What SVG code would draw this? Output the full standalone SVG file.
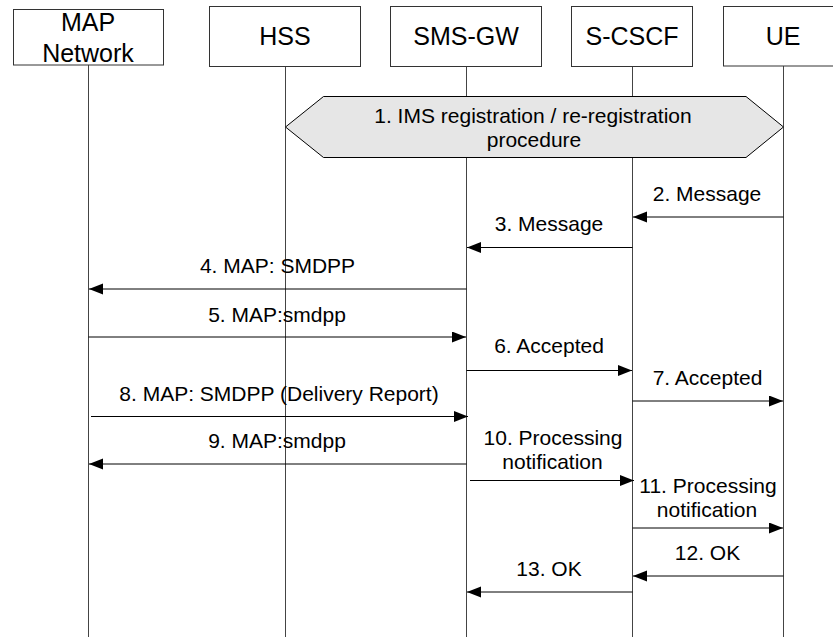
<svg xmlns="http://www.w3.org/2000/svg" width="833" height="637" viewBox="0 0 833 637">
<style>
.box{fill:#fff;stroke:#333;stroke-width:1}
.life{stroke:#444;stroke-width:1;fill:none}
.msg{stroke:#000;stroke-width:1;fill:none;marker-end:url(#ah)}
.nl{font-family:"Liberation Sans",Arial,sans-serif;font-size:25px;fill:#000;text-anchor:middle}
.ml{font-family:"Liberation Sans",Arial,sans-serif;font-size:21px;fill:#000;text-anchor:middle}
</style>
<defs>
<marker id="ah" markerUnits="userSpaceOnUse" markerWidth="15" markerHeight="12" refX="14" refY="5.5" orient="auto">
<path d="M0,0 L14,5.5 L0,11 z" fill="#000"/>
</marker>
</defs>
<g id="lifelines">
<line class="life" x1="88.5" y1="65" x2="88.5" y2="637"/>
<line class="life" x1="285.5" y1="67" x2="285.5" y2="637"/>
<line class="life" x1="466.5" y1="67" x2="466.5" y2="637"/>
<line class="life" x1="632.5" y1="67" x2="632.5" y2="637"/>
<line class="life" x1="783.5" y1="66" x2="783.5" y2="637"/>
</g>
<g id="node-map">
<rect class="box" x="13.5" y="9.5" width="150" height="55.5"/>
<text class="nl" x="88" y="30.5">MAP</text>
<text class="nl" x="88" y="61.5">Network</text>
</g>
<g id="node-hss">
<rect class="box" x="209.5" y="6.5" width="151" height="60"/>
<text class="nl" x="285" y="45">HSS</text>
</g>
<g id="node-smsgw">
<rect class="box" x="390.5" y="6.5" width="151" height="60"/>
<text class="nl" x="466" y="45">SMS-GW</text>
</g>
<g id="node-scscf">
<rect class="box" x="571.5" y="6.5" width="121" height="60"/>
<text class="nl" x="632" y="45">S-CSCF</text>
</g>
<g id="node-ue">
<rect class="box" x="723.5" y="6.5" width="120" height="59.5"/>
<text class="nl" x="783" y="45">UE</text>
</g>
<g id="node-ims">
<polygon points="285.5,127 323.5,96.5 746,96.5 783.5,127 746,157.5 323.5,157.5" fill="#e6e6e6" stroke="#000" stroke-width="1"/>
<text class="ml" x="533" y="122.5">1. IMS registration / re-registration</text>
<text class="ml" x="534" y="146.5">procedure</text>
</g>
<g id="connectors">
<line class="msg" x1="783.5" y1="217" x2="633" y2="217"/>
<line class="msg" x1="632.5" y1="247.5" x2="467" y2="247.5"/>
<line class="msg" x1="466.5" y1="289" x2="89" y2="289"/>
<line class="msg" x1="88.5" y1="337" x2="466" y2="337"/>
<line class="msg" x1="466.5" y1="370.5" x2="632" y2="370.5"/>
<line class="msg" x1="632.5" y1="401" x2="783" y2="401"/>
<line class="msg" x1="91" y1="416.5" x2="468" y2="416.5"/>
<line class="msg" x1="466.5" y1="464" x2="89" y2="464"/>
<line class="msg" x1="470" y1="480.5" x2="634" y2="480.5"/>
<line class="msg" x1="632.5" y1="528" x2="783" y2="528"/>
<line class="msg" x1="783.5" y1="576" x2="633" y2="576"/>
<line class="msg" x1="632.5" y1="592" x2="467" y2="592"/>
</g>
<g id="labels">
<text class="ml" x="707" y="201">2. Message</text>
<text class="ml" x="549" y="231">3. Message</text>
<text class="ml" x="277.5" y="273">4. MAP: SMDPP</text>
<text class="ml" x="277" y="322">5. MAP:smdpp</text>
<text class="ml" x="549" y="353">6. Accepted</text>
<text class="ml" x="707.5" y="385">7. Accepted</text>
<text class="ml" x="279" y="400.5">8. MAP: SMDPP (Delivery Report)</text>
<text class="ml" x="277" y="448">9. MAP:smdpp</text>
<text class="ml" x="553" y="445">10. Processing</text>
<text class="ml" x="552.5" y="469">notification</text>
<text class="ml" x="708" y="492.5">11. Processing</text>
<text class="ml" x="707" y="516.5">notification</text>
<text class="ml" x="707.5" y="560">12. OK</text>
<text class="ml" x="549" y="576">13. OK</text>
</g>
</svg>
